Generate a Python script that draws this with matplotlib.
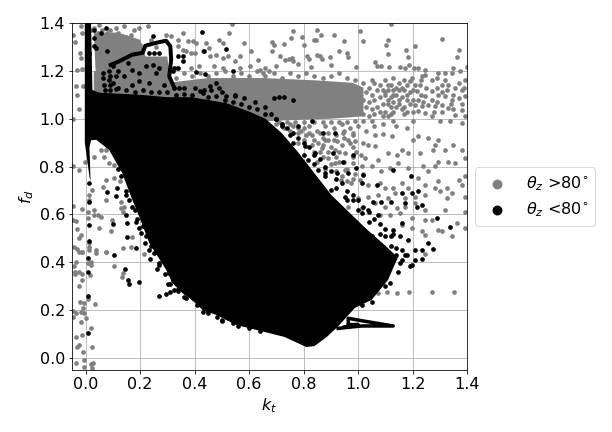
import matplotlib
matplotlib.use("Agg")
import matplotlib.pyplot as plt

# zonas densas (contorno, en unidades kt / fd)
masa_kt = [-0.003, 0.015, 0.018, 0.016, 0.014, 0.02, 0.039, 0.086, 0.134, 0.167, 0.197, 0.234, 0.27, 0.296, 0.318,
           0.355, 0.39, 0.43, 0.48, 0.553, 0.657, 0.73, 0.81, 0.84, 0.885, 0.925, 0.988, 1.05, 1.11, 1.146, 1.1,
           1.03, 0.903, 0.78, 0.72, 0.66, 0.6, 0.517, 0.39, 0.3, 0.2, 0.05, 0.025, 0.02, -0.003]
masa_fd = [0.9, 0.75, 0.74, 0.82, 0.88, 0.91, 0.912, 0.87, 0.774, 0.674, 0.59, 0.48, 0.415, 0.368, 0.314,
           0.272, 0.243, 0.2, 0.18, 0.138, 0.109, 0.088, 0.046, 0.05, 0.088, 0.13, 0.209, 0.243, 0.326, 0.42, 0.47,
           0.54, 0.68, 0.86, 0.94, 1.0, 1.03, 1.065, 1.09, 1.09, 1.1, 1.109, 1.12, 1.4, 1.4]
banda_kt = [0.03, 0.21, 0.3, 0.45, 0.65, 0.85, 0.98, 1.02, 1.02, 0.9, 0.66, 0.03]
banda_fd = [1.2, 1.15, 1.15, 1.17, 1.17, 1.16, 1.15, 1.13, 1.01, 1.0, 0.99, 1.0]
parche_kt = [0.03, 0.12, 0.2, 0.22, 0.3, 0.31, 0.04]
parche_fd = [1.36, 1.36, 1.33, 1.26, 1.26, 1.15, 1.12]

# trazos negros gruesos
lazo_kt = [0.092, 0.123, 0.172, 0.209, 0.219, 0.258, 0.295, 0.311, 0.314, 0.307, 0.326]
lazo_fd = [1.225, 1.24, 1.268, 1.275, 1.305, 1.317, 1.326, 1.303, 1.247, 1.177, 1.128]
cola_kt = [0.927, 1.013, 1.129, 1.013, 0.964, 0.964, 1.0, 0.95]
cola_fd = [0.124, 0.134, 0.134, 0.156, 0.166, 0.14, 0.14, 0.13]

# puntos sueltos theta_z > 80
gris = [
    (0.761, 1.365), (0.684, 1.319), (0.691, 1.31), (0.728, 1.314), (0.755, 1.337), (0.794, 1.342), (0.802, 1.31),
    (0.684, 1.282), (0.85, 1.372), (0.863, 1.351), (0.912, 1.351), (0.839, 1.328), (0.847, 1.33), (0.949, 1.323),
    (1.007, 1.368), (1.019, 1.323), (1.121, 1.397), (1.111, 1.33), (1.104, 1.31), (1.111, 1.272), (1.21, 1.305),
    (1.177, 1.289), (1.185, 1.257), (1.31, 1.333), (1.369, 1.289), (1.363, 1.258), (0.929, 1.282), (0.958, 1.275),
    (0.964, 1.258), (0.813, 1.261), (0.819, 1.251), (0.851, 1.268), (0.859, 1.264), (0.866, 1.25), (0.897, 1.258),
    (0.902, 1.226), (0.829, 1.216), (0.731, 1.247), (0.745, 1.25), (0.758, 1.254), (0.761, 1.24), (0.78, 1.229),
    (0.712, 1.261), (0.7, 1.219), (0.994, 1.216), (1.062, 1.237), (1.068, 1.219), (1.086, 1.219), (1.115, 1.216),
    (1.187, 1.226), (1.154, 1.216), (1.172, 1.212), (1.205, 1.212), (1.221, 1.212), (1.246, 1.205), (1.35, 1.212),
    (1.399, 1.216), (1.375, 1.198), (1.295, 1.191), (1.32, 1.191), (1.344, 1.191),
    (1.197, 1.17), (1.191, 1.156), (1.234, 1.177), (1.246, 1.184), (1.27, 1.163), (1.289, 1.17), (1.307, 1.142),
    (1.326, 1.121), (1.356, 1.128), (1.381, 1.121), (1.393, 1.163), (1.228, 1.142), (1.215, 1.114), (1.246, 1.093),
    (1.27, 1.114), (1.295, 1.1), (1.32, 1.093), (1.344, 1.08), (1.369, 1.086), (1.393, 1.093), (1.209, 1.059),
    (1.234, 1.052), (1.258, 1.059), (1.283, 1.052), (1.307, 1.059), (1.332, 1.045), (1.356, 1.017), (1.381, 1.038),
    (1.221, 1.031), (1.246, 1.024), (1.27, 1.01), (1.301, 0.989), (1.338, 0.989), (1.381, 0.982), (1.393, 1.01),
    (1.12, 1.14), (1.14, 1.1), (1.16, 1.13), (1.18, 1.08), (1.15, 1.06), (1.13, 1.03), (1.17, 1.02), (1.19, 1.11),
    (1.11, 1.08), (1.1, 1.16), (1.13, 1.17), (1.15, 1.15), (1.17, 1.16), (1.1, 1.11), (1.12, 1.05), (1.16, 1.09),
    (1.062, 0.933), (1.093, 0.937), (1.123, 0.926), (1.062, 0.884), (1.037, 0.891), (1.019, 0.898), (0.988, 0.905),
    (0.964, 0.912), (0.945, 0.94), (0.921, 0.905), (0.89, 0.912), (0.853, 0.898), (0.866, 0.877), (0.915, 0.87),
    (0.951, 0.856), (0.994, 0.863), (1.025, 0.835), (1.074, 0.828), (1.111, 0.856), (1.142, 0.849), (1.16, 0.87),
    (1.185, 0.856), (1.228, 0.856), (1.203, 0.912), (1.221, 0.926), (1.258, 0.919), (1.295, 0.912), (1.283, 0.891),
    (1.32, 0.87), (1.35, 0.891), (1.381, 0.87), (1.393, 0.835), (1.277, 0.87), (1.24, 0.801), (1.295, 0.821),
    (1.332, 0.821), (1.356, 0.817), (1.283, 0.801), (1.258, 0.78), (1.221, 0.752), (1.185, 0.794), (1.148, 0.814),
    (1.117, 0.794), (1.086, 0.78), (1.05, 0.801), (1.013, 0.801), (0.982, 0.814), (0.951, 0.787), (0.915, 0.814),
    (0.89, 0.835), (0.939, 0.745), (0.976, 0.731), (1.007, 0.745), (1.037, 0.724), (1.08, 0.731), (1.099, 0.71),
    (1.129, 0.71), (1.16, 0.731), (1.185, 0.71), (1.246, 0.724), (1.283, 0.71), (1.301, 0.696), (1.326, 0.71),
    (1.344, 0.689), (1.369, 0.745), (1.393, 0.759), (1.381, 0.724), (1.393, 0.675), (1.326, 0.668), (1.295, 0.738),
    (1.246, 0.682), (1.209, 0.675), (1.172, 0.668), (1.136, 0.689), (1.111, 0.668), (1.074, 0.682), (1.037, 0.675),
    (1.001, 0.668), (0.964, 0.633), (1.013, 0.626), (1.062, 0.647), (1.099, 0.633), (1.142, 0.626), (1.172, 0.633),
    (1.209, 0.647), (1.246, 0.619), (1.32, 0.619), (1.393, 0.612), (1.08, 0.598), (1.117, 0.598), (1.154, 0.605),
    (1.197, 0.584), (1.246, 0.577), (1.27, 0.577), (1.16, 0.556), (1.197, 0.543), (1.234, 0.529), (1.295, 0.536),
    (1.307, 0.529), (1.344, 0.508), (1.363, 0.563), (1.393, 0.543), (1.246, 0.515),
    (0.7, 0.98), (0.73, 0.96), (0.76, 0.97), (0.79, 0.95), (0.82, 0.97), (0.85, 0.95), (0.88, 0.97), (0.91, 0.96),
    (0.94, 0.98), (0.97, 0.96), (1.0, 0.97), (1.03, 0.95), (1.06, 0.97), (1.09, 0.98), (1.14, 0.97), (1.18, 0.96),
    (1.2, 0.99), (0.83, 0.93), (0.8, 0.91), (0.87, 0.92), (0.9, 0.88), (0.84, 0.86), (0.93, 0.86), (0.98, 0.88),
    (0.78, 0.9), (0.85, 0.82), (0.92, 0.78), (0.96, 0.74), (0.88, 0.79),
    (-0.046, 1.351), (-0.039, 1.319), (-0.018, 1.386), (-0.012, 1.358), (-0.021, 1.275), (-0.018, 1.254),
    (-0.03, 1.205), (-0.012, 1.208), (-0.034, 1.135), (-0.009, 1.138), (-0.03, 1.1), (-0.024, 1.04), (-0.046, 0.999),
    (0.111, 1.379), (0.142, 1.386), (0.166, 1.351), (0.179, 1.372), (0.197, 1.379), (0.228, 1.386), (0.295, 1.351),
    (0.313, 1.345), (0.338, 1.33), (0.357, 1.358), (0.375, 1.323), (0.393, 1.323), (0.406, 1.317), (0.338, 1.303),
    (0.357, 1.289), (0.369, 1.282), (0.387, 1.275), (0.403, 1.275), (0.43, 1.282), (0.442, 1.317), (0.452, 1.296),
    (0.491, 1.33), (0.504, 1.317), (0.528, 1.358), (0.538, 1.397), (0.583, 1.317), (0.608, 1.282), (0.565, 1.261),
    (0.547, 1.24), (0.522, 1.261), (0.504, 1.254), (0.479, 1.268), (0.455, 1.261), (0.633, 1.247), (0.565, 1.212),
    (0.602, 1.219), (0.639, 1.205), (0.657, 1.212), (0.673, 1.198), (0.651, 1.191), (0.473, 1.219), (0.504, 1.212),
    (0.418, 1.219), (0.387, 1.212), (0.332, 1.212), (0.24, 1.33), (0.26, 1.3), (0.23, 1.25), (0.27, 1.24), (0.25, 1.21),
    (0.02, 1.37), (0.05, 1.39), (0.08, 1.36), (0.15, 1.34), (0.17, 1.31), (0.2, 1.31), (0.19, 1.29),
    (-0.046, 0.801), (-0.024, 0.787), (-0.002, 0.821), (0.031, 0.84), (0.062, 0.714), (0.074, 0.745), (0.025, 0.703),
    (0.011, 0.682), (0.011, 0.661), (0.074, 0.661), (0.103, 0.752), (0.127, 0.738), (0.13, 0.654), (0.13, 0.626),
    (0.142, 0.633), (0.136, 0.612), (-0.046, 0.636), (-0.012, 0.622), (0.007, 0.612), (0.031, 0.619), (0.031, 0.598),
    (0.044, 0.598), (0.056, 0.591), (-0.046, 0.575), (-0.036, 0.573), (0.095, 0.575), (0.007, 0.584), (-0.03, 0.538),
    (0.05, 0.543), (0.093, 0.529), (-0.018, 0.515), (-0.024, 0.501), (0.172, 0.505), (0.011, 0.48), (0.011, 0.466),
    (0.011, 0.452), (-0.042, 0.463), (-0.03, 0.455), (-0.012, 0.445), (0.037, 0.452), (0.074, 0.445), (0.139, 0.459),
    (0.166, 0.466), (0.215, 0.435), (0.062, 0.933), (0.08, 0.933), (0.062, 0.905), (0.074, 0.898), (0.056, 0.87),
    (0.074, 0.87), (0.068, 0.842), (0.087, 0.814), (0.105, 0.808),
    (-0.042, 0.385), (-0.034, 0.403), (-0.039, 0.361), (-0.039, 0.352), (-0.026, 0.361), (-0.012, 0.352),
    (-0.012, 0.326), (-0.024, 0.301), (0.007, 0.396), (0.019, 0.403), (0.019, 0.389), (0.015, 0.347), (0.103, 0.385),
    (0.136, 0.357), (0.132, 0.338), (-0.021, 0.236), (-0.005, 0.232), (0.007, 0.246), (0.034, 0.225), (-0.046, 0.197),
    (-0.034, 0.187), (-0.018, 0.194), (-0.005, 0.187), (-0.009, 0.208), (-0.048, 0.173), (0.003, 0.166),
    (-0.018, 0.149), (0.019, 0.124), (-0.034, 0.089), (-0.014, 0.096), (-0.03, 0.048), (-0.024, 0.054), (0.022, 0.045),
    (-0.009, 0.027), (-0.005, -0.008), (-0.036, -0.019), (0.028, -0.022), (0.019, -0.025), (-0.005, -0.039),
    (0.025, -0.043), (0.038, 0.438), (-0.024, 0.445), (-0.012, 0.445), (0.074, 0.445),
    (1.074, 0.271), (1.105, 0.275), (1.142, 0.273), (1.188, 0.278), (1.273, 0.275), (1.354, 0.278), (1.246, 0.435),
]

# borde irregular de la banda gris
gris_borde = [
    (0.24, 1.18), (0.27, 1.17), (0.3, 1.18), (0.33, 1.17), (0.36, 1.19), (0.39, 1.18), (0.42, 1.19), (0.45, 1.18),
    (0.48, 1.19), (0.51, 1.2), (0.54, 1.18), (0.57, 1.19), (0.6, 1.18), (0.63, 1.2), (0.66, 1.18), (0.69, 1.19),
    (0.72, 1.17), (0.75, 1.19), (0.78, 1.18), (0.81, 1.19), (0.84, 1.18), (0.87, 1.17), (0.9, 1.18), (0.93, 1.19),
    (0.96, 1.17), (0.99, 1.16), (1.02, 1.15), (1.05, 1.16), (1.08, 1.14), (1.11, 1.14), (1.13, 1.12), (1.15, 1.12),
    (1.1, 1.1), (1.11, 1.06), (1.12, 1.09), (1.13, 1.07), (1.14, 1.05), (1.1, 1.03), (1.11, 1.01), (1.13, 0.99),
    (1.17, 1.05), (1.18, 1.03), (1.2, 1.08), (1.17, 1.12), (1.21, 1.14), (1.23, 1.1), (1.25, 1.13), (1.27, 1.08),
    (1.29, 1.13), (1.31, 1.11), (1.33, 1.14), (1.35, 1.1), (1.37, 1.15), (1.39, 1.13), (1.24, 1.07), (1.29, 1.07),
    (1.34, 1.06), (1.38, 1.06), (1.23, 1.16), (1.32, 1.16), (1.28, 1.03), (1.31, 1.03), (1.35, 1.04), (1.22, 1.08),
    (0.67, 0.975), (0.71, 0.985), (0.74, 0.985), (0.77, 0.985), (0.8, 0.985), (0.84, 0.985), (0.87, 0.985),
    (0.9, 0.985), (0.93, 0.985), (0.96, 0.985), (0.99, 0.99), (1.02, 0.99), (1.05, 0.99), (0.75, 0.95), (0.78, 0.94),
    (0.81, 0.93), (0.84, 0.91), (0.87, 0.89), (0.8, 0.96), (0.89, 0.94), (0.92, 0.93), (0.95, 0.92), (0.98, 0.93),
    (0.03, 1.38), (0.045, 1.36), (0.06, 1.37), (0.09, 1.37), (0.1, 1.34), (0.12, 1.33), (0.14, 1.31), (0.16, 1.29),
    (0.18, 1.26), (0.2, 1.25), (0.22, 1.23), (0.24, 1.22), (0.26, 1.2), (0.28, 1.19), (0.31, 1.2), (0.12, 1.36),
    (1.02, 1.02), (1.03, 1.05), (1.02, 1.08), (1.03, 1.11), (1.04, 1.01), (1.05, 1.04), (1.04, 1.07), (1.05, 1.1),
    (1.04, 1.13), (1.06, 1.02), (1.07, 1.05), (1.06, 1.08), (1.07, 1.12), (1.06, 1.15), (1.08, 1.03), (1.09, 1.06),
    (1.08, 1.09), (1.09, 1.12), (1.09, 1.01), (1.11, 1.12), (1.12, 1.02), (1.14, 1.13), (1.13, 1.1), (1.15, 1.08),
    (1.16, 1.04), (1.18, 1.1), (1.19, 1.06), (1.2, 1.12), (1.18, 1.14), (1.2, 1.03), (0.98, 0.94), (0.95, 0.95),
    (0.72, 0.98), (0.75, 0.98), (0.78, 0.96), (0.82, 0.94), (0.86, 0.94), (0.88, 0.91), (0.91, 0.91), (0.94, 0.89),
    (0.97, 0.9), (0.83, 0.89), (0.86, 0.86), (0.89, 0.86), (0.92, 0.84), (0.95, 0.82), (0.98, 0.84), (1.01, 0.85),
    (0.87, 0.84), (0.9, 0.81), (0.93, 0.82), (0.96, 0.79), (0.99, 0.77), (1.02, 0.77), (0.94, 0.76), (0.98, 0.75),
]

# puntos sueltos theta_z < 80
negro = [
    (0.915, 0.94), (0.872, 0.94), (0.982, 0.849), (1.129, 0.787), (1.194, 0.762), (1.068, 0.724), (1.16, 0.689),
    (1.197, 0.689), (1.221, 0.696), (1.172, 0.647), (1.215, 0.633), (1.234, 0.64), (1.289, 0.584), (1.336, 0.547),
    (1.121, 0.654), (1.086, 0.654), (1.056, 0.654), (1.019, 0.766), (0.994, 0.794), (0.964, 0.773), (0.945, 0.821),
    (0.909, 0.856), (0.921, 0.773), (1.013, 0.731), (1.074, 0.598), (1.16, 0.563), (1.185, 0.494), (1.258, 0.48),
    (1.277, 0.455), (1.234, 0.452), (1.209, 0.452), (1.154, 0.508), (1.129, 0.536), (1.099, 0.508), (1.05, 0.508),
    (1.013, 0.605), (1.037, 0.619), (0.982, 0.661), (0.902, 0.703), (0.951, 0.675), (0.878, 0.773), (0.853, 0.787),
    (0.817, 0.828), (0.841, 0.856), (0.804, 0.884), (0.72, 0.97), (0.7, 1.0), (0.75, 0.93), (0.78, 0.97), (0.83, 0.99),
    (0.69, 1.085), (0.71, 1.09), (0.73, 1.09), (0.76, 1.08),
    (0.246, 1.344), (0.428, 1.363), (0.434, 1.282), (0.514, 1.291), (0.54, 1.198), (0.406, 1.195), (0.44, 1.188),
    (0.479, 1.149), (0.491, 1.128), (0.455, 1.135), (0.436, 1.121), (0.516, 1.093), (0.547, 1.096), (0.43, 1.107),
    (0.344, 1.128), (0.326, 1.128), (0.32, 1.198), (0.338, 1.212), (0.357, 1.24), (0.357, 1.263), (0.338, 1.261),
    (0.154, 1.233), (0.172, 1.205), (0.197, 1.191), (0.222, 1.219), (0.246, 1.226), (0.271, 1.212), (0.197, 1.156),
    (0.234, 1.149), (0.258, 1.191), (0.289, 1.142), (0.209, 1.121), (0.172, 1.142), (0.111, 1.177), (0.062, 1.191),
    (0.062, 1.17), (0.068, 1.142), (0.252, 1.275), (0.234, 1.275), (0.326, 1.212), (0.271, 1.275),
    (0.011, 1.275), (0.031, 1.372), (0.031, 1.337), (0.031, 1.303), (0.037, 1.296), (0.074, 1.379), (0.077, 1.282),
    (0.056, 1.358), (0.011, 1.27), (0.005, 1.28),
    (0.011, 0.731), (0.117, 0.71), (0.111, 0.679), (0.08, 0.693), (0.013, 0.654), (0.148, 0.682), (0.17, 0.633),
    (0.148, 0.598), (0.152, 0.563), (0.099, 0.559), (0.011, 0.556), (0.152, 0.505), (0.185, 0.459), (0.105, 0.43),
    (0.011, 0.487), (0.197, 0.543), (0.185, 0.57), (0.203, 0.522), (0.219, 0.48), (0.234, 0.452),
    (0.007, 0.417), (0.007, 0.361), (0.007, 0.261), (0.007, 0.103), (0.145, 0.371), (0.154, 0.326), (0.158, 0.308),
    (0.195, 0.317), (0.268, 0.261), (0.295, 0.268), (0.31, 0.278), (0.326, 0.285), (0.338, 0.282), (0.36, 0.257),
    (0.393, 0.25), (0.408, 0.243), (0.43, 0.194), (0.448, 0.198), (0.482, 0.17), (0.501, 0.156), (0.559, 0.134),
    (0.301, 0.308), (0.261, 0.371), (0.236, 0.413), (0.271, 0.396), (0.307, 0.354), (0.32, 0.326), (0.363, 0.278),
    (0.442, 0.222), (0.485, 0.187), (0.522, 0.166),
    (1.197, 0.389), (1.234, 0.413), (1.209, 0.41), (1.172, 0.431), (1.148, 0.361), (1.117, 0.313), (1.099, 0.299),
    (1.05, 0.236), (1.013, 0.222), (1.154, 0.396), (1.191, 0.385),
]

# borde irregular de la masa negra y grumos de arriba
negro_borde = [
    (0.72, 0.98), (0.74, 0.96), (0.76, 0.94), (0.78, 0.92), (0.8, 0.9), (0.82, 0.88), (0.84, 0.85), (0.86, 0.83),
    (0.88, 0.8), (0.9, 0.78), (0.92, 0.75), (0.94, 0.73), (0.96, 0.7), (0.98, 0.68), (1.0, 0.66), (1.02, 0.63),
    (1.04, 0.61), (1.06, 0.58), (1.08, 0.56), (1.1, 0.54), (1.12, 0.51), (0.68, 1.02), (0.7, 1.0), (0.66, 1.05),
    (0.76, 0.9), (0.8, 0.85), (0.84, 0.81), (0.88, 0.76), (0.92, 0.71), (0.96, 0.66), (1.0, 0.62), (1.04, 0.57),
    (1.08, 0.52), (1.12, 0.47), (1.14, 0.46), (1.14, 0.43), (1.16, 0.45), (1.16, 0.41), (1.18, 0.43), (1.13, 0.52),
    (0.13, 0.76), (0.12, 0.79), (0.15, 0.7), (0.16, 0.66), (0.18, 0.62), (0.19, 0.58), (0.21, 0.55), (0.22, 0.51),
    (0.24, 0.47), (0.25, 0.44), (0.27, 0.39), (0.29, 0.35), (0.31, 0.31), (0.34, 0.29), (0.37, 0.25), (0.41, 0.22),
    (0.45, 0.19), (0.5, 0.16), (0.54, 0.145), (0.6, 0.125), (0.64, 0.115),
    (0.33, 1.1), (0.36, 1.105), (0.39, 1.1), (0.42, 1.115), (0.45, 1.09), (0.48, 1.095), (0.51, 1.08), (0.54, 1.07),
    (0.57, 1.06), (0.6, 1.05), (0.63, 1.04), (0.66, 1.02), (0.62, 1.07), (0.58, 1.085), (0.5, 1.11), (0.46, 1.12),
    (0.4, 1.13), (0.36, 1.13), (0.55, 1.1), (0.09, 1.12), (0.09, 1.14), (0.085, 1.16), (0.09, 1.18), (0.085, 1.2),
    (0.1, 1.22), (0.07, 1.12), (0.12, 1.13), (0.15, 1.12), (0.18, 1.11), (0.24, 1.11), (0.27, 1.11), (0.3, 1.11),
    (0.1, 1.15), (0.12, 1.2), (0.14, 1.18), (0.11, 1.125),
]

gris_kt = [p[0] for p in gris + gris_borde]
gris_fd = [p[1] for p in gris + gris_borde]
negro_kt = [p[0] for p in negro + negro_borde]
negro_fd = [p[1] for p in negro + negro_borde]

color_gris = "#808080"

plt.rcParams["font.size"] = 16
plt.rcParams["mathtext.fontset"] = "dejavusans"

fig = plt.figure(figsize=(8.5, 6), dpi=72)
ax = fig.add_axes([72 / 612, 1 - 370 / 432, 395 / 612, 347 / 432])
ax.grid(True)
ax.set_axisbelow(True)

# gris abajo, negro encima
ax.fill(banda_kt, banda_fd, color=color_gris, lw=0)
ax.fill(parche_kt, parche_fd, color=color_gris, lw=0)
ax.scatter(gris_kt, gris_fd, s=22, c=color_gris, linewidths=0, label=r"$\theta_z$ >80$^{\circ}$")

ax.fill(masa_kt, masa_fd, color="black", lw=0)
ax.plot(lazo_kt, lazo_fd, color="black", lw=4)
ax.plot(cola_kt, cola_fd, color="black", lw=3.5)
ax.scatter(negro_kt, negro_fd, s=22, c="black", linewidths=0, label=r"$\theta_z$ <80$^{\circ}$")

ax.set_xlim(-0.05, 1.4)
ax.set_ylim(-0.05, 1.4)
ax.set_xticks([0.0, 0.2, 0.4, 0.6, 0.8, 1.0, 1.2, 1.4])
ax.set_yticks([0.0, 0.2, 0.4, 0.6, 0.8, 1.0, 1.2, 1.4])
ax.set_xlabel(r"$k_t$")
ax.set_ylabel(r"$f_d$")

ax.legend(loc="center left", bbox_to_anchor=(1.0, 0.5), markerscale=2.1, fontsize=16)

plt.savefig("out.png", dpi=72)
plt.close()
